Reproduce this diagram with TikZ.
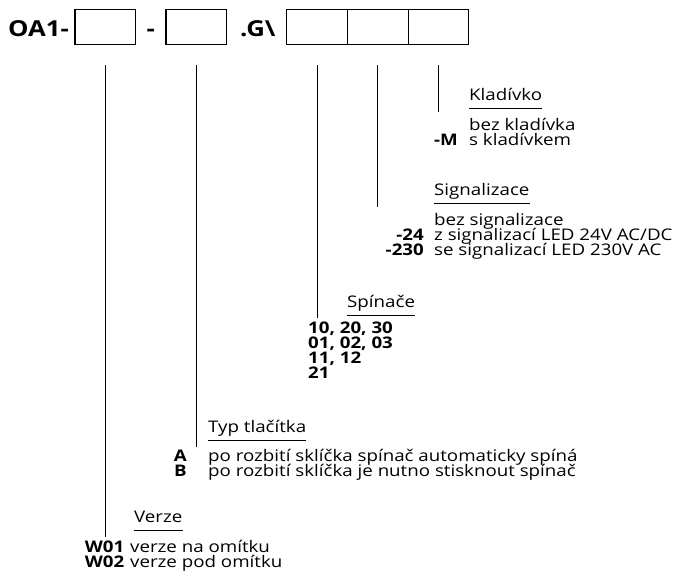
\documentclass[tikz,border=0pt]{standalone}
\usepackage{fontspec}
\setmainfont{Open Sans}[FakeStretch=1.17]
\begin{document}
\begin{tikzpicture}[x=1pt,y=-1pt,
  slot/.style={draw,line width=1.1pt,minimum width=60.6pt,minimum height=35pt,inner sep=0,outer sep=0},
  hlava/.style={anchor=base west,inner sep=0,font=\fontsize{22}{22}\selectfont\bfseries},
  txt/.style={anchor=base west,inner sep=0,font=\fontsize{16}{15}\selectfont},
  kod/.style={anchor=base east,inner sep=0,font=\fontsize{16}{15}\selectfont\bfseries},
  kodl/.style={anchor=base west,inner sep=0,font=\fontsize{16}{15}\selectfont\bfseries},
  lead/.style={line width=0.9pt},
  uline/.style={line width=0.8pt}]
\useasboundingbox (0,0) rectangle (676,576);
% order code
\node[hlava] (oa) at (8,36) {OA1-};
\node[slot] (b1) at (105.3,26.8) {};
\node[hlava] (d1) at (146.5,36) {-};
\node[slot] (b2) at (196.3,26.8) {};
\node[hlava] (g) at (240,36) {.G\textbackslash};
\node[slot] (b3) at (317,26.8) {};
\node[slot] (b4) at (377.8,26.8) {};
\node[slot] (b5) at (438.5,26.8) {};
% leaders
\coordinate (e1) at (105.3,537);
\coordinate (e2) at (196.3,446.5);
\coordinate (e3) at (317,318);
\coordinate (e4) at (377.8,207);
\coordinate (e5) at (438.5,111.7);
\draw[lead] ([yshift=-20.7pt]b1.south) -- (e1);
\draw[lead] ([yshift=-20.7pt]b2.south) -- (e2);
\draw[lead] ([yshift=-20.7pt]b3.south) -- (e3);
\draw[lead] ([yshift=-20.7pt]b4.south) -- (e4);
\draw[lead] ([yshift=-20.7pt]b5.south) -- (e5);
% Kladivko
\node[txt] (kl) at (469,100.7) {Kladívko};
\draw[uline] ([yshift=-7.6pt]kl.base west) -- ([yshift=-7.6pt]kl.base east);
\node[txt] (kl1) at (469,130.2) {bez kladívka};
\node[txt] (kl2) at (469,145.2) {s kladívkem};
\node[kod] (klm) at (458,145.2) {-M};
% Signalizace
\node[txt] (si) at (434,195.7) {Signalizace};
\draw[uline] ([yshift=-8pt]si.base west) -- ([yshift=-8pt]si.base east);
\node[txt] (si1) at (434,225.2) {bez signalizace};
\node[txt] (si2) at (434,240.2) {z signalizací LED 24V AC/DC};
\node[txt] (si3) at (434,255.2) {se signalizací LED 230V AC};
\node[kod] (si24) at (424,240.2) {-24};
\node[kod] (si230) at (424,255.2) {-230};
% Spinace
\node[txt] (sp) at (347,307.3) {Spínače};
\draw[uline] ([yshift=-7.6pt]sp.base west) -- ([yshift=-7.6pt]sp.base east);
\node[kodl] (sp1) at (308,333.5) {10, 20, 30};
\node[kodl] (sp2) at (308,348.5) {01, 02, 03};
\node[kodl] (sp3) at (308,363.5) {11, 12};
\node[kodl] (sp4) at (308,378.5) {21};
% Typ tlacitka
\node[txt] (ty) at (208,432) {Typ tlačítka};
\draw[uline] ([yshift=-8pt]ty.base west) -- ([yshift=-8pt]ty.base east);
\node[txt] (ty1) at (208,461.5) {po rozbití sklíčka spínač automaticky spíná};
\node[txt] (ty2) at (208,476.5) {po rozbití sklíčka je nutno stisknout spínač};
\node[kod] (tya) at (187,461.5) {A};
\node[kod] (tyb) at (187,476.5) {B};
% Verze
\node[txt] (ve) at (134,522.5) {Verze};
\draw[uline] ([yshift=-8pt]ve.base west) -- ([yshift=-8pt]ve.base east);
\node[txt] (ve1) at (130,552) {verze na omítku};
\node[txt] (ve2) at (130,567) {verze pod omítku};
\node[kod] (vw1) at (124.5,552) {W01};
\node[kod] (vw2) at (124.5,567) {W02};
\end{tikzpicture}
\end{document}
